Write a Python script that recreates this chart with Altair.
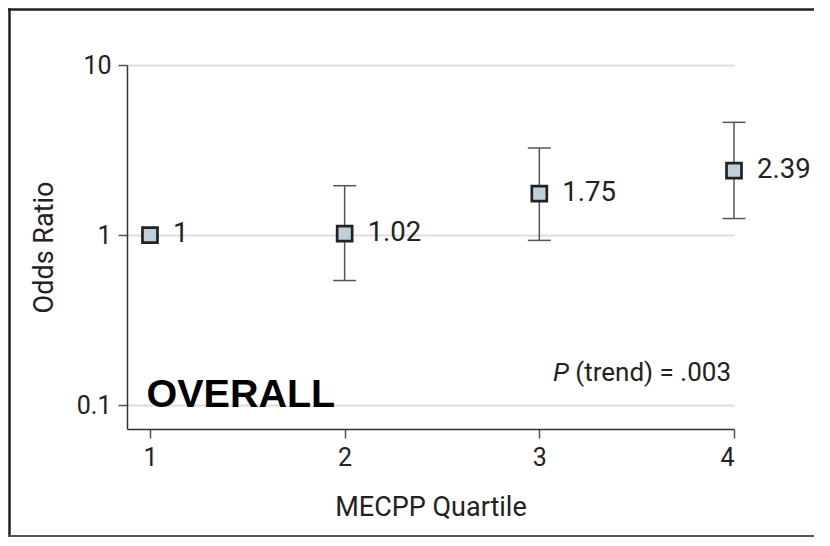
import altair as alt
import pandas as pd

# ---- data ----
quartiles = [1, 2, 3, 4]
odds_ratios = [1.0, 1.02, 1.75, 2.39]
ci_lower = [None, 0.54, 0.93, 1.25]
ci_upper = [None, 1.95, 3.25, 4.6]
value_labels = ["1", "1.02", "1.75", "2.39"]
x_ticks = [1, 2, 3, 4]
y_ticks = [0.1, 1, 10]
panel_label = ["OVERALL"]
trend_text = ["(trend) = .003"]
trend_p = ["P"]

df = pd.DataFrame({"q": quartiles, "or": odds_ratios, "lo": ci_lower,
                   "hi": ci_upper, "label": value_labels})
err = df.dropna()
anno = pd.DataFrame({"q": [4], "or": [0.1], "q1": [1],
                     "panel": panel_label, "trend": trend_text, "p": trend_p})

FONT = "Roboto"
INK = "#222222"

xscale = alt.Scale(domain=[0.882, 4], nice=False, zero=False)
yscale = alt.Scale(type="log", domain=[0.0723, 10], nice=False)
xaxis = alt.Axis(values=x_ticks, format="d", grid=False, titlePadding=24)
yaxis = alt.Axis(values=y_ticks, format="~g", grid=True, titlePadding=18)


def X(field):
    return alt.X(field, scale=xscale, axis=xaxis, title="MECPP Quartile")


def Y(field):
    return alt.Y(field, scale=yscale, axis=yaxis, title="Odds Ratio")


rules = alt.Chart(err).mark_rule(color="#555555", strokeWidth=1.5).encode(
    x=X("q:Q"), y=Y("lo:Q"), y2="hi:Q",
)
cap_lo = alt.Chart(err).mark_tick(orient="horizontal", size=23, thickness=1.5,
                                  color="#555555", opacity=1).encode(
    x=X("q:Q"), y=Y("lo:Q"),
)
cap_hi = alt.Chart(err).mark_tick(orient="horizontal", size=23, thickness=1.5,
                                  color="#555555", opacity=1).encode(
    x=X("q:Q"), y=Y("hi:Q"),
)

points = alt.Chart(df).mark_point(
    shape="square", size=225, filled=True, fill="#bdd0db",
    stroke=INK, strokeWidth=2.7, opacity=1
).encode(x=X("q:Q"), y=Y("or:Q"))

labels = alt.Chart(df).mark_text(
    align="left", baseline="middle", dx=23, dy=-1, fontSize=27.5, font=FONT, color=INK
).encode(x=X("q:Q"), y=Y("or:Q"), text="label:N")

overall = alt.Chart(anno).mark_text(
    align="left", baseline="alphabetic", dx=-3.5, dy=1.5, fontSize=39.5,
    font="Liberation Sans", fontWeight="bold", color="#000000"
).encode(x=X("q1:Q"), y=Y("or:Q"), text="panel:N")

trend = alt.Chart(anno).mark_text(
    align="right", baseline="alphabetic", dx=-3, dy=-24, fontSize=26,
    font=FONT, color=INK
).encode(x=X("q:Q"), y=Y("or:Q"), text="trend:N")

trend_pv = alt.Chart(anno).mark_text(
    align="right", baseline="alphabetic", dx=-165, dy=-24, fontSize=26,
    font=FONT, fontStyle="italic", color=INK
).encode(x=X("q:Q"), y=Y("or:Q"), text="p:N")

# outer frame: top, left and bottom edges
frame_top = alt.Chart(anno).mark_rule(color=INK, strokeWidth=2.5, orient="horizontal").encode(
    x=alt.value(-119), x2=alt.value(690), y=alt.value(-55.5), y2=alt.value(-55.5),
)
frame_left = alt.Chart(anno).mark_rule(color=INK, strokeWidth=2.5, orient="vertical").encode(
    x=alt.value(-117.5), x2=alt.value(-117.5), y=alt.value(-56.5), y2=alt.value(472),
)
frame_bottom = alt.Chart(anno).mark_rule(color="#555555", strokeWidth=2, orient="horizontal").encode(
    x=alt.value(-119), x2=alt.value(690), y=alt.value(471), y2=alt.value(471),
)

chart = alt.layer(
    rules, cap_lo, cap_hi, points, labels, overall, trend, trend_pv,
    frame_top, frame_left, frame_bottom
).properties(
    width=607, height=364,
    autosize=alt.AutoSizeParams(type="none"),
    padding={"left": 119, "top": 57, "right": 80, "bottom": 109},
).configure_view(stroke=None).configure_axis(
    labelFont=FONT, labelFontSize=25, labelColor=INK,
    titleFont=FONT, titleFontSize=27, titleFontWeight="normal", titleColor=INK,
    domainColor="#333333", domainWidth=1.5,
    tickColor="#555555", tickSize=9, tickWidth=1.5, labelPadding=7,
    gridColor="#dddddd", gridWidth=2,
)

chart.save("out.html", embed_options={"renderer": "svg", "actions": False})
